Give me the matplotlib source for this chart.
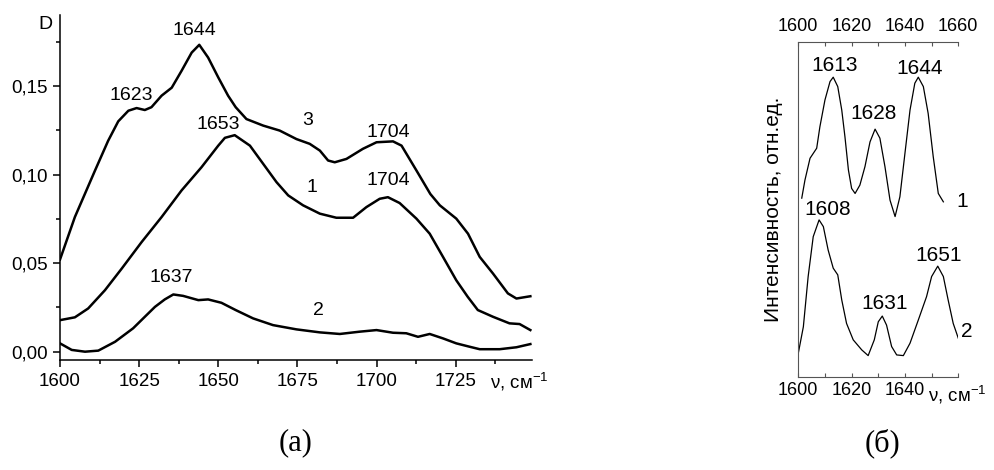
import numpy as np
import matplotlib
matplotlib.use("Agg")
import matplotlib.pyplot as plt
from matplotlib.ticker import MultipleLocator, FixedLocator

plt.rcParams['font.family'] = ['Liberation Sans', 'DejaVu Sans']
plt.rcParams['mathtext.fontset'] = 'custom'
plt.rcParams['mathtext.rm'] = 'Liberation Sans'
plt.rcParams['lines.solid_joinstyle'] = 'round'

# panel (a): absorbance spectra
wn3 = [1600, 1604.7, 1611, 1615.2, 1618.4, 1621.6, 1624.2, 1626.8, 1628.9, 1632.1,
       1635.3, 1638.4, 1641.6, 1644, 1646.8, 1650, 1653.1, 1655.5, 1658.9, 1664.2,
       1669.4, 1674.7, 1678.9, 1682.1, 1684.7, 1686.8, 1690.5, 1695.7, 1700, 1705.2,
       1707.9, 1712.6, 1717, 1720, 1725.2, 1728.9, 1732.6, 1736.8, 1741.5, 1744.2, 1748.6]
d3 = [0.052, 0.076, 0.102, 0.119, 0.130, 0.136, 0.1375, 0.1364, 0.138, 0.1445,
      0.149, 0.1585, 0.1688, 0.1732, 0.166, 0.1548, 0.1445, 0.138, 0.1313, 0.1276,
      0.1248, 0.120, 0.1173, 0.1135, 0.1079, 0.1069, 0.1088, 0.1145, 0.1182, 0.1187,
      0.1163, 0.1023, 0.089, 0.0826, 0.0751, 0.0666, 0.0535, 0.0441, 0.0329, 0.030, 0.0313]

wn1 = [1600, 1604.7, 1608.9, 1614.2, 1619.5, 1625.8, 1632.1, 1638.4, 1644.7, 1650,
       1652.1, 1655.2, 1660, 1664.2, 1668.4, 1672.1, 1676.8, 1682.1, 1687.3, 1692.6,
       1696.8, 1701, 1703.6, 1707.3, 1712.6, 1716.8, 1721, 1725.2, 1728.8, 1732,
       1736.8, 1742, 1745.2, 1748.6]
d1 = [0.0178, 0.0194, 0.0244, 0.0347, 0.0469, 0.0619, 0.076, 0.091, 0.1041, 0.1163,
      0.1207, 0.1222, 0.1163, 0.106, 0.0957, 0.0882, 0.0826, 0.0779, 0.0756, 0.0756,
      0.0816, 0.0863, 0.0872, 0.0839, 0.0751, 0.0666, 0.0535, 0.0403, 0.031, 0.0235,
      0.0197, 0.016, 0.0156, 0.0122]

wn2 = [1600, 1603.7, 1607.9, 1612.1, 1617.4, 1623.1, 1626.8, 1630, 1633.1, 1635.8,
       1638.9, 1643.7, 1646.8, 1651, 1655.5, 1661, 1667.3, 1674.7, 1682.1, 1688.4,
       1694.7, 1700, 1705.2, 1709.4, 1713.1, 1716.8, 1721, 1725.2, 1729.4, 1732.6,
       1738.9, 1744.2, 1748.6]
d2 = [0.0047, 0.001, 0.0, 0.0006, 0.0056, 0.0132, 0.0197, 0.0253, 0.0295, 0.0323,
      0.0315, 0.0291, 0.0295, 0.0276, 0.0235, 0.0188, 0.015, 0.0126, 0.0109, 0.010,
      0.0113, 0.0122, 0.0107, 0.0104, 0.0084, 0.010, 0.0075, 0.0047, 0.0028, 0.0014,
      0.0014, 0.0025, 0.0043]

# peak labels (text, x, y) for panel (a)
peaks_a = [("1644", 1642.6, 0.181), ("1623", 1622.6, 0.1445), ("1653", 1650, 0.1285),
           ("1704", 1703.6, 0.1238), ("1704", 1703.6, 0.0966), ("1637", 1635.3, 0.0419)]
curves_a = [("3", 1678.1, 0.1304), ("1", 1679.6, 0.0929), ("2", 1681.8, 0.0231)]

# panel (б): relative intensity
wn_b1 = [1601.3, 1602.5, 1604.4, 1606.9, 1608.1, 1610, 1611.9, 1613.1, 1614.8, 1616.3,
         1617.5, 1618.8, 1620, 1621.3, 1623.1, 1625, 1626.9, 1628.8, 1630.6, 1632.5,
         1634.4, 1636.3, 1638.1, 1640, 1641.9, 1643.7, 1645, 1646.9, 1648.7, 1650.6,
         1652.5, 1654.4]
i_b1 = [53.3, 58.7, 65.2, 68.2, 74.6, 82.6, 88.1, 89.4, 86.6, 79.6,
        71.6, 61.7, 56.2, 54.7, 57.2, 62.7, 70.1, 73.9, 71.2, 62.7,
        52.7, 47.8, 53.7, 66.7, 79.6, 87.6, 89.4, 86.6, 78.6, 65.7,
        54.7, 52.2]

wn_b2 = [1600, 1601.9, 1603.7, 1605.6, 1607.8, 1609.4, 1611.2, 1613.1, 1614.8, 1616.3,
         1618.1, 1620.6, 1623.8, 1626.2, 1628.5, 1630, 1631.5, 1633.1, 1635, 1636.9,
         1639.4, 1641.9, 1645, 1648.1, 1650, 1652.3, 1654.4, 1656.2, 1658.1, 1660]
i_b2 = [7.0, 14.9, 29.9, 41.8, 46.8, 44.8, 37.8, 32.4, 30.4, 22.9,
        15.9, 11.0, 8.0, 6.3, 11.0, 16.4, 18.1, 15.4, 9.0, 6.5,
        6.3, 10.0, 16.9, 23.9, 29.9, 33.0, 29.9, 22.9, 15.9, 11.5]

peaks_b = [("1613", 1613.8, 93), ("1628", 1628.1, 78.6), ("1644", 1645.6, 92),
           ("1608", 1610.9, 49.8), ("1631", 1632.5, 21.9), ("1651", 1652.5, 36.3)]
curves_b = [("1", 1661.5, 52.2), ("2", 1663.2, 13.4)]

fig = plt.figure(figsize=(9.95, 4.7), dpi=100)

# ---- panel (a)
ax = fig.add_axes([0.0603, 0.234, 0.474, 0.734])
for x, y in [(wn3, d3), (wn1, d1), (wn2, d2)]:
    ax.plot(x, y, color='black', lw=1.8)
ax.set_xlim(1600, 1749)
ax.set_ylim(-0.0047, 0.190)
ax.spines['top'].set_visible(False)
ax.spines['right'].set_visible(False)
for s in ('left', 'bottom'):
    ax.spines[s].set_linewidth(1.1)
ax.xaxis.set_major_locator(FixedLocator([1600, 1625, 1650, 1675, 1700, 1725]))
ax.xaxis.set_minor_locator(MultipleLocator(12.5))
ax.yaxis.set_major_locator(FixedLocator([0.0, 0.05, 0.10, 0.15]))
ax.yaxis.set_minor_locator(MultipleLocator(0.025))
ax.set_yticklabels(["0,00", "0,05", "0,10", "0,15"])
ax.tick_params(which='major', direction='out', length=5, width=1.1, labelsize=13.5, pad=4)
ax.tick_params(which='minor', direction='out', length=3, width=1.1)
for t, x, y in peaks_a + curves_a:
    ax.text(x, y, t, ha='center', va='center', fontsize=14)
ax.text(1595.5, 0.1848, "D", ha='center', va='center', fontsize=14, clip_on=False)
ax.annotate("ν, см$^{-1}$", xy=(1735.8, 0), xycoords=('data', 'axes fraction'),
            xytext=(0, -15.6), textcoords='offset points', ha='left', va='center',
            fontsize=13.5, annotation_clip=False)

# ---- panel (б)
bx = fig.add_axes([0.8023, 0.1985, 0.1608, 0.7128])
bx.plot(wn_b1, i_b1, color='black', lw=0.9)
bx.plot(wn_b2, i_b2, color='black', lw=0.9)
bx.set_xlim(1600, 1660)
bx.set_ylim(0, 100)
bx.spines['right'].set_visible(False)
for s in ('left', 'top', 'bottom'):
    bx.spines[s].set_linewidth(0.8)
    bx.spines[s].set_color('#555555')
bx.set_yticks([])
bx.xaxis.set_major_locator(FixedLocator([1600, 1620, 1640, 1660]))
bx.xaxis.set_minor_locator(MultipleLocator(10))
bx.set_xticklabels(["1600", "1620", "1640", ""])
bx.tick_params(axis='x', which='both', direction='in', top=True, labeltop=False,
               color='#555555', width=0.8, length=3, labelsize=13, pad=4)
# top scale repeats the wavenumbers, including 1660
top = bx.secondary_xaxis('top')
top.set_xticks([1600, 1620, 1640, 1660])
top.set_xticklabels(["1600", "1620", "1640", "1660"])
top.tick_params(direction='in', length=0, labelsize=13, pad=5)
top.spines['top'].set_visible(False)
for t, x, y in peaks_b:
    bx.text(x, y, t, ha='center', va='center', fontsize=15)
for t, x, y in curves_b:
    bx.text(x, y, t, ha='center', va='center', fontsize=15, clip_on=False)
bx.set_ylabel("Интенсивность, отн.ед.", fontsize=15)
bx.yaxis.set_label_coords(-0.094, 0.5)
bx.annotate("ν, см$^{-1}$", xy=(1648.7, 0), xycoords=('data', 'axes fraction'),
            xytext=(0, -13.2), textcoords='offset points', ha='left', va='center',
            fontsize=13.5, annotation_clip=False)

fig.text(296 / 995, 1 - 443 / 470, "(а)", family='Liberation Serif', fontsize=22,
         ha='center', va='center')
fig.text(883 / 995, 1 - 443 / 470, "(б)", family='Liberation Serif', fontsize=22,
         ha='center', va='center')

fig.savefig("out.png", dpi=100)
